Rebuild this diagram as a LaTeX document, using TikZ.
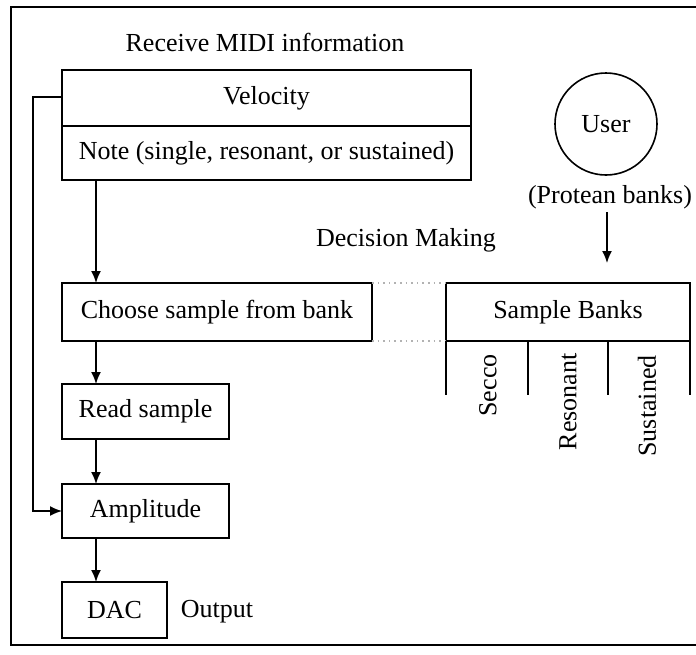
\documentclass[tikz,border=0pt]{standalone}
\usepackage{fontspec}
\setmainfont{Liberation Serif}
\usetikzlibrary{arrows.meta}
\begin{document}
\begin{tikzpicture}[x=0.5pt,y=-0.5pt,
  every node/.style={font=\fontsize{13}{15}\selectfont, inner sep=0pt},
  box/.style={draw, line width=1pt, rectangle, outer sep=0pt},
  conn/.style={line width=0.8pt},
  arr/.style={conn, -{Latex[length=6pt,width=5pt]}},
  guide/.style={dotted, gray!60, line width=0.8pt}]
\useasboundingbox (0,0) rectangle (696,654);
% outer frame (open on the right)
\draw[line width=0.9pt] (696,7) -- (11,7) -- (11,645) -- (696,645);

% MIDI input block
\node (title) at (265,42) {Receive MIDI information};
\node[box, minimum width=204.5pt, minimum height=28pt] (vel) at (266.5,98) {Velocity};
\node[box, minimum width=204.5pt, minimum height=27pt, anchor=north] (note) at (vel.south) {Note (single, resonant, or sustained)};

% processing chain
\node[box, minimum width=155pt, minimum height=29pt] (choose) at (217,312) {Choose sample from bank};
\node[box, minimum width=83.5pt, minimum height=27.5pt] (read) at (145.5,411.5) {Read sample};
\node[box, minimum width=83.5pt, minimum height=27pt] (amp) at (145.5,511) {Amplitude};
\node[box, minimum width=52.5pt, minimum height=28pt] (dac) at (114.5,610) {DAC};
\node (out) at (217,612) {Output};

\draw[arr] ([xshift=17pt]note.south west) -- ([xshift=17pt]choose.north west);
\draw[arr] ([xshift=17pt]choose.south west) -- ([xshift=17pt]read.north west);
\draw[arr] ([xshift=17pt]read.south west) -- ([xshift=17pt]amp.north west);
\draw[arr] ([xshift=17pt]amp.south west) -- ([xshift=17pt]dac.north west);
\draw[arr] ([yshift=0.5pt]vel.west) -- ++(-14.5pt,0) |- (amp.west);

% user and sample banks
\node[draw, circle, line width=0.8pt, minimum size=51pt] (user) at (606,124) {User};
\node (protean) at (610,197) {(Protean banks)};
\node (decision) at (406,240) {Decision Making};
\node[box, minimum width=122pt, minimum height=29pt] (banks) at (568,312) {Sample Banks};
\coordinate (ptop) at (607,212);
\coordinate (pend) at (607,263);
\draw[arr] (ptop) -- (pend);

\draw[guide] (choose.north east) -- (banks.north west);
\draw[guide] (choose.south east) -- (banks.south west);

\draw[line width=1pt] (banks.south west) -- ++(0,54);
\draw[line width=1pt] ([xshift=41pt]banks.south west) -- ++(0,54);
\draw[line width=1pt] ([xshift=81pt]banks.south west) -- ++(0,54);
\draw[line width=1pt] (banks.south east) -- ++(0,54);

\node[rotate=90, anchor=east] (secco) at (488,354) {Secco};
\node[rotate=90, anchor=east] (reson) at (568,353) {Resonant};
\node[rotate=90, anchor=east] (sust) at (647,355) {Sustained};
\end{tikzpicture}
\end{document}
